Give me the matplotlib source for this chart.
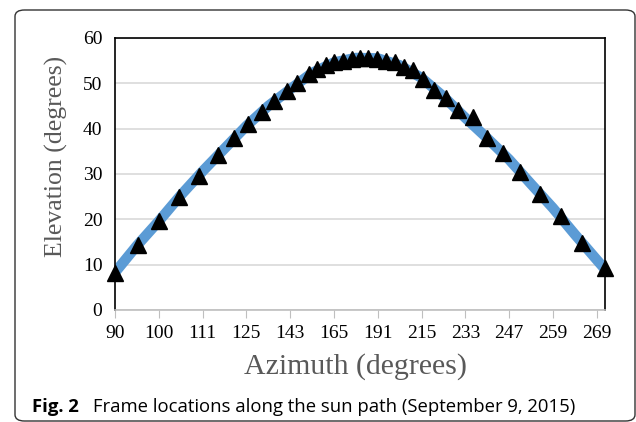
import matplotlib
matplotlib.use("Agg")
from matplotlib import pyplot as plt
from matplotlib.patches import FancyBboxPatch

# x axis: evenly spaced time steps, labelled with the sun azimuth
tick_pos = list(range(12))
tick_labels = ['90', '100', '111', '125', '143', '165', '191', '215', '233', '247', '259', '269']

# sun path (blue line)
path_x = [0.0, 0.5, 1.0, 1.5, 2.0, 2.5, 3.0, 3.5, 4.0, 4.5, 5.0, 5.5,
          6.0, 6.5, 7.0, 7.5, 8.0, 8.5, 9.0, 9.5, 10.0, 10.5, 11.0, 11.19]
path_y = [8.3, 14.2, 19.6, 25.3, 30.6, 35.6, 40.6, 45.0, 48.7, 52.3, 54.6, 55.6,
          55.5, 54.0, 51.2, 47.1, 42.4, 37.9, 33.2, 27.8, 22.5, 16.7, 11.1, 9.0]

# frame locations (triangles)
frame_x = [0.0, 0.52, 1.0, 1.47, 1.91, 2.35, 2.72, 3.04, 3.35, 3.64, 3.92, 4.16,
           4.43, 4.61, 4.82, 5.0, 5.2, 5.41, 5.59, 5.78, 5.98, 6.19, 6.39, 6.6,
           6.8, 7.03, 7.28, 7.55, 7.84, 8.17, 8.49, 8.87, 9.26, 9.7, 10.18, 10.66, 11.19]
frame_y = [8.2, 14.3, 19.6, 24.9, 29.6, 34.2, 37.9, 41.0, 43.7, 46.1, 48.2, 50.0,
           52.0, 53.1, 54.1, 54.6, 55.0, 55.3, 55.5, 55.5, 55.3, 55.0, 54.6, 53.7,
           52.9, 51.0, 48.5, 46.8, 44.1, 42.5, 37.9, 34.6, 30.4, 25.6, 20.7, 14.7, 9.2]

fig = plt.figure(figsize=(6.36, 4.22), dpi=100)
W, H = 636.0, 422.0

# rounded frame around the figure
fig.patches.append(FancyBboxPatch((15 / W, 1 - 421 / H), 620 / W, 411 / H,
                                  boxstyle="round,pad=0,rounding_size=0.015",
                                  transform=fig.transFigure, fill=False,
                                  edgecolor='#333333', linewidth=1.0))

ax = fig.add_axes([115 / W, 1 - 310 / H, 490 / W, 272 / H])
ax.plot(path_x, path_y, color='#5B9BD5', linewidth=7.5, solid_capstyle='round', zorder=2)
ax.plot(frame_x, frame_y, linestyle='none', marker='^', markersize=12,
        color='black', zorder=3, clip_on=False)

ax.set_xlim(0, 11.19)
ax.set_ylim(0, 60)
ax.set_yticks([0, 10, 20, 30, 40, 50, 60])
ax.set_xticks(tick_pos)
ax.set_xticklabels(tick_labels)
ax.yaxis.grid(True, color='#D9D9D9', linewidth=1.2)
ax.set_axisbelow(True)

for s in ['left', 'top', 'right']:
    ax.spines[s].set_color('black')
    ax.spines[s].set_linewidth(1.2)
ax.spines['bottom'].set_color('#BFBFBF')
ax.spines['bottom'].set_linewidth(1.2)

ax.tick_params(axis='y', length=0, pad=9, labelsize=14)
ax.tick_params(axis='x', length=6, color='#BFBFBF', direction='out', pad=5, labelsize=14)
for lab in ax.get_xticklabels() + ax.get_yticklabels():
    lab.set_fontfamily('Liberation Serif')

fig.text(56 / W, 1 - 156 / H, 'Elevation (degrees)', rotation=90, ha='center', va='center',
         fontsize=18.5, color='#595959', family='Liberation Serif')
fig.text(355 / W, 1 - 367 / H, 'Azimuth (degrees)', ha='center', va='center',
         fontsize=21.5, color='#595959', family='Liberation Serif')

fig.text(32 / W, 1 - 412 / H, 'Fig. 2', ha='left', va='baseline',
         fontsize=13.3, fontweight='bold', family='Open Sans')
fig.text(93 / W, 1 - 412 / H, 'Frame locations along the sun path (September 9, 2015)',
         ha='left', va='baseline', fontsize=13.3, family='Open Sans')

fig.savefig('out.png', dpi=100)
